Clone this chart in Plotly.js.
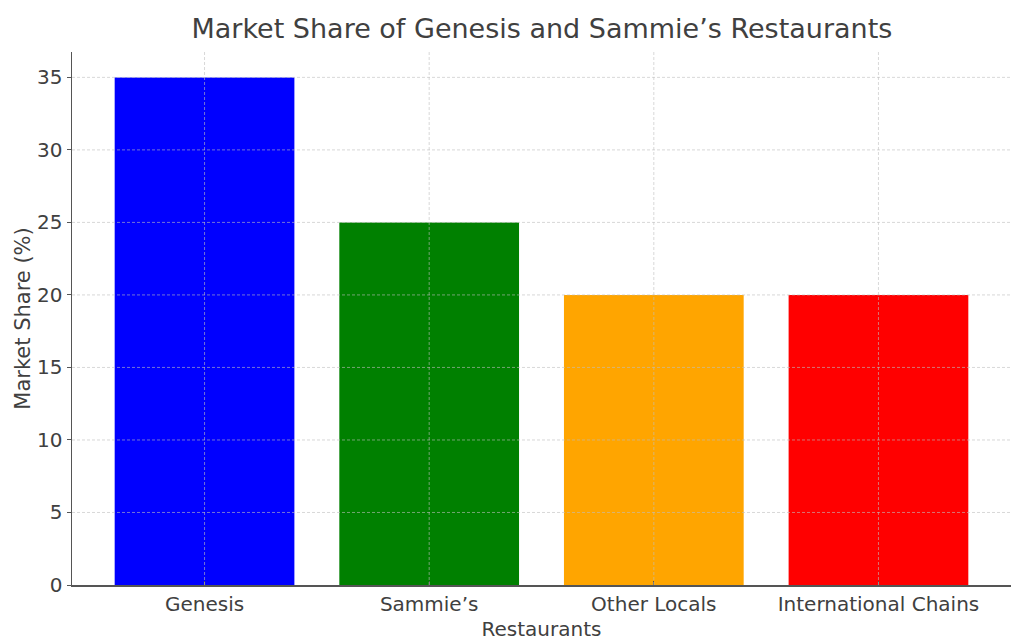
<!DOCTYPE html>
<html>
<head>
<meta charset="utf-8">
<script src="https://cdn.plot.ly/plotly-3.0.1.min.js"></script>
<style>html,body{margin:0;padding:0;background:#fff;}#chart{width:1011px;height:641px;}</style>
</head>
<body>
<div id="chart"></div>
<script>
const categories = ["Genesis", "Sammie’s", "Other Locals", "International Chains"];
const marketShare = [35, 25, 20, 20];
const barColors = ["#0000ff", "#008000", "#ffa500", "#ff0000"];
const yTicks = [0, 5, 10, 15, 20, 25, 30, 35];

const xIdx = categories.map((_, i) => i);
const textColor = "#404040";
const gridColor = "rgba(190,190,190,0.6)";

const shapes = [];
yTicks.filter(v => v > 0).forEach(v => shapes.push({
  type: "line", xref: "paper", x0: 0, x1: 1, yref: "y", y0: v, y1: v,
  line: {color: gridColor, width: 1, dash: "3px,2px"}, layer: "above"
}));
xIdx.forEach(i => shapes.push({
  type: "line", xref: "x", x0: i, x1: i, yref: "paper", y0: 0, y1: 1,
  line: {color: gridColor, width: 1, dash: "3px,2px"}, layer: "above"
}));

Plotly.newPlot("chart", [{
  type: "bar",
  x: xIdx,
  y: marketShare,
  width: 0.8,
  marker: {color: barColors, line: {width: 0}},
  hoverinfo: "skip"
}], {
  width: 1011, height: 641,
  margin: {l: 72, r: 0, t: 52, b: 56},
  paper_bgcolor: "#fff", plot_bgcolor: "#fff",
  font: {family: "DejaVu Sans", color: textColor, size: 20},
  title: {text: "Market Share of Genesis and Sammie’s Restaurants", font: {size: 27, color: textColor},
          x: 0.536, xanchor: "center", y: 0.97, yanchor: "top"},
  xaxis: {
    range: [-0.59, 3.59], tickvals: xIdx, ticktext: categories,
    showgrid: false, zeroline: false,
    showline: true, linecolor: "#555", linewidth: 1.5,
    ticks: "inside", ticklen: 4, tickcolor: "#555",
    tickfont: {size: 20},
    title: {text: "Restaurants", font: {size: 20}, standoff: 8}
  },
  yaxis: {
    range: [0, 36.75], tickvals: yTicks,
    showgrid: false, zeroline: false,
    showline: true, linecolor: "#555", linewidth: 1.5,
    ticks: "outside", ticklen: 4, tickcolor: "#555",
    tickfont: {size: 20},
    title: {text: "Market Share (%)", font: {size: 21}, standoff: 0}
  },
  shapes: shapes,
  showlegend: false
}, {displayModeBar: false, staticPlot: true});
</script>
</body>
</html>
